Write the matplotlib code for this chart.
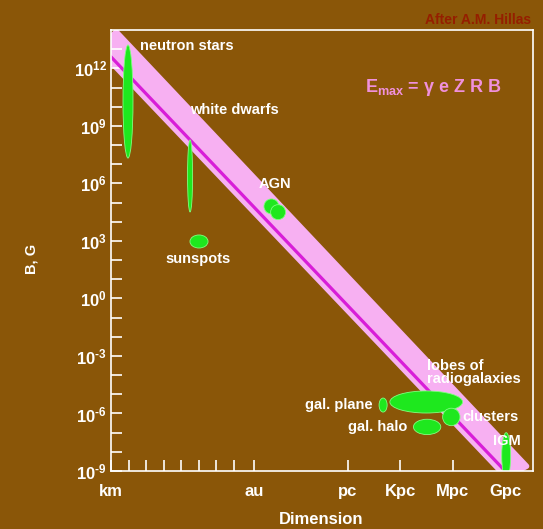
import numpy as np
import matplotlib.pyplot as plt
from matplotlib.patches import Ellipse, Polygon

plt.rcParams['font.family'] = ['Liberation Sans', 'DejaVu Sans']
plt.rcParams['font.weight'] = 'bold'
plt.rcParams['mathtext.fontset'] = 'custom'
plt.rcParams['mathtext.rm'] = 'Liberation Sans:bold'
plt.rcParams['mathtext.it'] = 'Liberation Sans:bold'
plt.rcParams['mathtext.bf'] = 'Liberation Sans:bold'

FONDO = '#8a5608'
BLANCO = '#ffffff'
VERDE = '#1ee81e'
ROSA = '#f7b0f2'
MAGENTA = '#d81ed8'

# fuentes: log10 del tamaño (m) y del campo (G), con su extension en decadas
fuentes = ['neutron stars', 'white dwarfs', 'AGN', 'AGN', 'sunspots',
           'gal. plane', 'lobes', 'clusters', 'gal. halo', 'IGM']
log_R = [3.97, 7.51, 12.15, 12.53, 8.02, 18.52, 20.98, 22.41, 21.03, 25.54]
log_B = [10.27, 6.39, 4.80, 4.50, 2.97, -5.56, -5.40, -6.18, -6.70, -8.20]
ancho_R = [0.57, 0.29, 0.85, 0.85, 1.03, 0.46, 4.15, 0.99, 1.56, 0.51]
alto_B = [5.9, 3.76, 0.78, 0.78, 0.68, 0.73, 1.15, 0.91, 0.80, 2.40]

# banda de Emax y recta limite
banda_R = [3.3, 26.7, 25.53, 2.3]
banda_B = [13.9, -8.75, -9.3, 13.0]
linea_R = [3.0, 25.48]
linea_B = [12.6, -9.0]

# escalas del eje x (log10 en metros)
escala_nombres = ['km', 'au', 'pc', 'Kpc', 'Mpc', 'Gpc']
escala_log = [3, 11.17, 16.49, 19.49, 22.49, 25.49]
decadas_x = [4, 5, 6, 7, 8, 9, 10]

etiquetas = ['neutron stars', 'white dwarfs', 'AGN', 'sunspots',
             'lobes of\nradiogalaxies', 'gal. plane', 'gal. halo',
             'clusters', 'IGM']
etiqueta_pos = [(4.65, 13.17, 'left'), (7.51, 9.83, 'left'),
                (11.44, 5.97, 'left'), (7.96, 2.04, 'center'),
                (21.03, -3.86, 'left'), (17.95, -5.56, 'right'),
                (19.89, -6.70, 'right'), (23.02, -6.18, 'left'),
                (24.78, -7.44, 'left')]

fig = plt.figure(figsize=(5.43, 5.29), dpi=100, facecolor=FONDO)
ax = fig.add_axes([0.2044, 0.1096, 0.7772, 0.8337], facecolor=FONDO)
ax.set_xlim(3, 27.07)
ax.set_ylim(-9, 14)

banda = Polygon(np.column_stack([banda_R, banda_B]), closed=True,
                facecolor=ROSA, edgecolor=ROSA, lw=4, joinstyle='round', zorder=1)
ax.add_patch(banda)
ax.plot(linea_R, linea_B, color=MAGENTA, lw=2.3, zorder=2)

for r, b, w, h in zip(log_R, log_B, ancho_R, alto_B):
    ax.add_patch(Ellipse((r, b), w, h, facecolor=VERDE, edgecolor='#80ff80',
                         lw=0.6, zorder=3))

for texto, (x, y, ha) in zip(etiquetas, etiqueta_pos):
    ax.text(x, y, texto, color=BLANCO, fontsize=10.5, ha=ha, va='center',
            linespacing=0.85, zorder=4)

ax.text(17.49, 10.98, r'E$_{\rm max}$ = γ e Z R B', color='#f090dc',
        fontsize=13, ha='left', va='center')

# ejes
for lado in ['left', 'right', 'top', 'bottom']:
    ax.spines[lado].set_color(BLANCO)
    ax.spines[lado].set_linewidth(1.2)
    ax.spines[lado].set_zorder(5)


def potencia(v):
    # exponente con guion corto, como en el original
    exp = str(abs(v))
    if v < 0:
        exp = '\u2010' + exp
    return r'$10^{%s}$' % exp


yt = list(range(-9, 14))
ax.set_yticks(yt)
ax.set_yticklabels([potencia(v) if v % 3 == 0 else '' for v in yt])
xt = decadas_x + escala_log
ax.set_xticks(xt)
ax.set_xticklabels([''] * len(decadas_x) + escala_nombres)
ax.tick_params(direction='in', length=8, width=1.2, color=BLANCO,
               labelcolor=BLANCO, labelsize=12)
ax.tick_params(axis='y', pad=3)
ax.tick_params(axis='x', pad=9)

fig.text(31 / 543, 1 - 259 / 529, 'B, G', color=BLANCO, fontsize=10.5,
         rotation=90, ha='center', va='center')
fig.text(321 / 543, 1 - 520 / 529, 'Dimension', color=BLANCO, fontsize=12,
         ha='center', va='center')
fig.text(531 / 543, 1 - 20 / 529, 'After A.M. Hillas', color='#951e00',
         fontsize=10, ha='right', va='center')

fig.savefig('out.png', dpi=100, facecolor=FONDO)
